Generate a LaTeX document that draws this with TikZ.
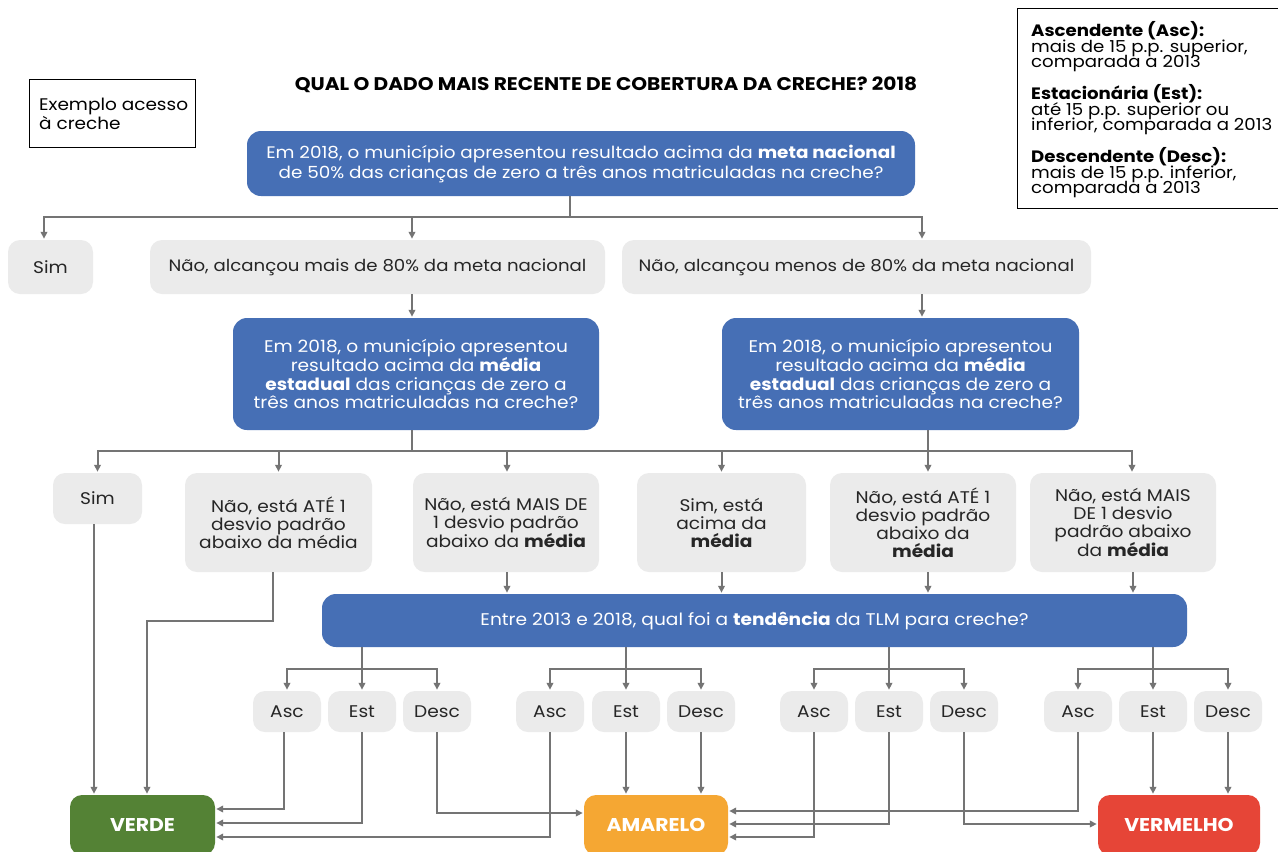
\documentclass[tikz,border=0pt]{standalone}
\usepackage{fontspec}
\setmainfont{Poppins}[FakeStretch=1.1]
\usetikzlibrary{arrows.meta}
\definecolor{qblue}{HTML}{466FB5}
\definecolor{qgray}{HTML}{EBEBEB}
\definecolor{qline}{HTML}{747474}
\definecolor{qtext}{HTML}{262626}
\definecolor{qgreen}{HTML}{548235}
\definecolor{qorange}{HTML}{F5A733}
\definecolor{qred}{HTML}{E64537}
\newcommand\tightlines{\lineskiplimit=-20pt\relax\lineskip=0pt\relax}
\tikzset{
  qbox/.style={fill=qblue, text=white, rounded corners=14pt, align=center, inner sep=0pt,
    font=\fontsize{16.9}{18.4}\selectfont},
  abox/.style={fill=qgray, text=qtext, rounded corners=12pt, align=center, inner sep=0pt,
    font=\fontsize{16.9}{18}\selectfont},
  tbox/.style={abox, minimum width=68pt, minimum height=41pt},
  rbox/.style={text=white, rounded corners=12pt, inner sep=0pt, minimum height=60pt,
    font=\fontsize{18.5}{20}\selectfont\bfseries},
  ln/.style={draw=qline, line width=2pt},
  arr/.style={ln, -{Triangle[length=7pt,width=6.5pt]}, shorten >=1pt},
  frame/.style={draw=black, line width=1pt},
}
\begin{document}
\begin{tikzpicture}[x=1pt, y=-1pt]
\useasboundingbox (0,0) rectangle (1278,852);
\fill[white] (0,0) rectangle (1278,852);

% title and side boxes
\node[font=\fontsize{18.3}{20}\selectfont\bfseries, text=black] (title) at (606,85)
  {QUAL O DADO MAIS RECENTE DE COBERTURA DA CRECHE? 2018};
\draw[frame] (29,79) rectangle (195,147);
\node[anchor=west, align=left, inner sep=0pt, font=\fontsize{16.8}{19}\selectfont] (ex) at (39,114)
  {Exemplo acesso\\à creche};
\draw[frame] (1017,8) rectangle (1283,208);
\node[anchor=north west, align=left, inner sep=0pt,
      font=\fontsize{16.5}{15.5}\selectfont\tightlines] (leg) at (1031,21.5)
  {\textbf{Ascendente (Asc):}\\mais de 15 p.p. superior,\\comparada a 2013\\[16.5pt]
   \textbf{Estacionária (Est):}\\até 15 p.p. superior ou\\inferior, comparada a 2013\\[16.5pt]
   \textbf{Descendente (Desc):}\\mais de 15 p.p. inferior,\\comparada a 2013};

% first question
\node[qbox, minimum width=668pt, minimum height=65pt, font=\fontsize{16.7}{20}\selectfont] (top) at (581,163.5)
  {Em 2018, o município apresentou resultado acima da \textbf{meta nacional}\\
   de 50\% das crianças de zero a três anos matriculadas na creche?};
\node[abox, minimum width=85pt, minimum height=54pt] (sim1) at (50.5,267) {Sim};
\node[abox, minimum width=455pt, minimum height=54pt, font=\fontsize{16.5}{18}\selectfont] (nm) at (377.5,267)
  {Não, alcançou mais de 80\% da meta nacional};
\node[abox, minimum width=469pt, minimum height=54pt, font=\fontsize{16.5}{18}\selectfont] (nl) at (856.5,267)
  {Não, alcançou menos de 80\% da meta nacional};

% state average questions
\node[qbox, minimum width=366pt, minimum height=112pt] (b2) at (416,374)
  {Em 2018, o município apresentou\\resultado acima da \textbf{média}\\
   \textbf{estadual} das crianças de zero a\\três anos matriculadas na creche?};
\node[qbox, minimum width=357pt, minimum height=112pt] (b3) at (900.5,374)
  {Em 2018, o município apresentou\\resultado acima da \textbf{média}\\
   \textbf{estadual} das crianças de zero a\\três anos matriculadas na creche?};

% answers to the state average
\node[abox, minimum width=89pt, minimum height=51pt] (r3a) at (97.5,498.5) {Sim};
\node[abox, minimum width=187pt, minimum height=99pt] (r3b) at (278.5,522.5)
  {Não, está ATÉ 1\\desvio padrão\\abaixo da média};
\node[abox, minimum width=186pt, minimum height=99pt] (r3c) at (506,522.5)
  {Não, está MAIS DE\\1 desvio padrão\\abaixo da \textbf{média}};
\node[abox, minimum width=169pt, minimum height=99pt] (r3d) at (721.5,522.5)
  {Sim, está\\acima da\\\textbf{média}};
\node[abox, minimum width=186pt, minimum height=99pt] (r3e) at (923,522.5)
  {Não, está ATÉ 1\\desvio padrão\\abaixo da\\\textbf{média}};
\node[abox, minimum width=186pt, minimum height=99pt] (r3f) at (1123,522.5)
  {Não, está MAIS\\DE 1 desvio\\padrão abaixo\\da \textbf{média}};

% trend question
\node[qbox, minimum width=865pt, minimum height=53pt] (tend) at (754.5,620.5)
  {Entre 2013 e 2018, qual foi a \textbf{tendência} da TLM para creche?};

% trend answers
\node[tbox] (a1) at (287,711.5) {Asc};
\node[tbox] (e1) at (362,711.5) {Est};
\node[tbox] (d1) at (437,711.5) {Desc};
\node[tbox] (a2) at (550,711.5) {Asc};
\node[tbox] (e2) at (626,711.5) {Est};
\node[tbox] (d2) at (701,711.5) {Desc};
\node[tbox] (a3) at (814,711.5) {Asc};
\node[tbox] (e3) at (889,711.5) {Est};
\node[tbox] (d3) at (964,711.5) {Desc};
\node[tbox] (a4) at (1078,711.5) {Asc};
\node[tbox] (e4) at (1153,711.5) {Est};
\node[tbox] (d4) at (1228,711.5) {Desc};

% results
\node[rbox, fill=qgreen, minimum width=145pt] (verde) at (142.5,825) {VERDE};
\node[rbox, fill=qorange, minimum width=144pt] (amarelo) at (656,825) {AMARELO};
\node[rbox, fill=qred, minimum width=162pt] (vermelho) at (1179,825) {VERMELHO};

% connectors: first question
\coordinate (j1) at (570,217);
\draw[ln] ([xshift=-11pt]top.south) -- (j1);
\draw[arr] (j1) -| ([xshift=-6.5pt]sim1.north);
\draw[arr] (j1) -| ([xshift=34.5pt]nm.north);
\draw[arr] (j1) -| ([xshift=65.5pt]nl.north);
\draw[arr] ([xshift=34.5pt]nm.south) -- ([xshift=-4pt]b2.north);
\draw[arr] ([xshift=65.5pt]nl.south) -- ([xshift=21.5pt]b3.north);

% connectors: state average
\coordinate (j2) at (412,451);
\coordinate (j3) at (928,451);
\draw[ln] ([xshift=-4pt]b2.south) -- (j2);
\draw[ln] ([xshift=27.5pt]b3.south) -- (j3);
\draw[ln] (j2) -- (j3);
\draw[arr] (j2) -| (r3a.north);
\draw[arr] (j2) -| (r3b.north);
\draw[arr] (j2) -| ([xshift=1pt]r3c.north);
\draw[arr] (j3) -| (r3d.north);
\draw[arr] (j3) -| ([xshift=5pt]r3e.north);
\draw[arr] (j3) -| ([xshift=9pt]r3f.north);

% connectors: into the trend question
\draw[arr] ([xshift=1pt]r3c.south) -- ([xshift=1pt]r3c.south |- tend.north);
\draw[arr] (r3d.south) -- (r3d.south |- tend.north);
\draw[arr] ([xshift=5pt]r3e.south) -- ([xshift=5pt]r3e.south |- tend.north);
\draw[arr] ([xshift=10pt]r3f.south) -- ([xshift=10pt]r3f.south |- tend.north);

% connectors: direct routes to VERDE
\coordinate (k1) at (147,621);
\draw[arr] ([xshift=-3.5pt]r3a.south) -- ([xshift=-3.5pt]r3a.south |- verde.north);
\draw[arr] ([xshift=-5.5pt]r3b.south) |- (k1) -- (k1 |- verde.north);

% connectors: trend branches
\coordinate (g1) at (362,669);
\coordinate (g2) at (626,669);
\coordinate (g3) at (889,669);
\coordinate (g4) at (1153,669);
\foreach \g/\a/\e/\d in {g1/a1/e1/d1, g2/a2/e2/d2, g3/a3/e3/d3, g4/a4/e4/d4}{
  \draw[arr] (\g |- tend.south) -- (\e.north);
  \draw[arr] (\g) -| (\a.north);
  \draw[arr] (\g) -| (\d.north);
}

% connectors: trend answers to results
\draw[arr] ([xshift=-3pt]a1.south) |- ([yshift=16pt]verde.east);
\draw[arr] (e1.south) |- ([yshift=2pt]verde.east);
\draw[arr] (a2.south) |- ([yshift=-12pt]verde.east);
\draw[arr] (d1.south) |- ([yshift=12pt]amarelo.west);
\draw[arr] (e2.south) -- (e2.south |- amarelo.north);
\draw[arr] (d2.south) -- (d2.south |- amarelo.north);
\draw[arr] (a4.south) |- ([yshift=14pt]amarelo.east);
\draw[arr] (e3.south) |- ([yshift=1pt]amarelo.east);
\draw[arr] (a3.south) |- ([yshift=-12pt]amarelo.east);
\draw[arr] (d3.south) |- ([yshift=1pt]vermelho.west);
\draw[arr] (e4.south) -- (e4.south |- vermelho.north);
\draw[arr] (d4.south) -- (d4.south |- vermelho.north);
\end{tikzpicture}
\end{document}
